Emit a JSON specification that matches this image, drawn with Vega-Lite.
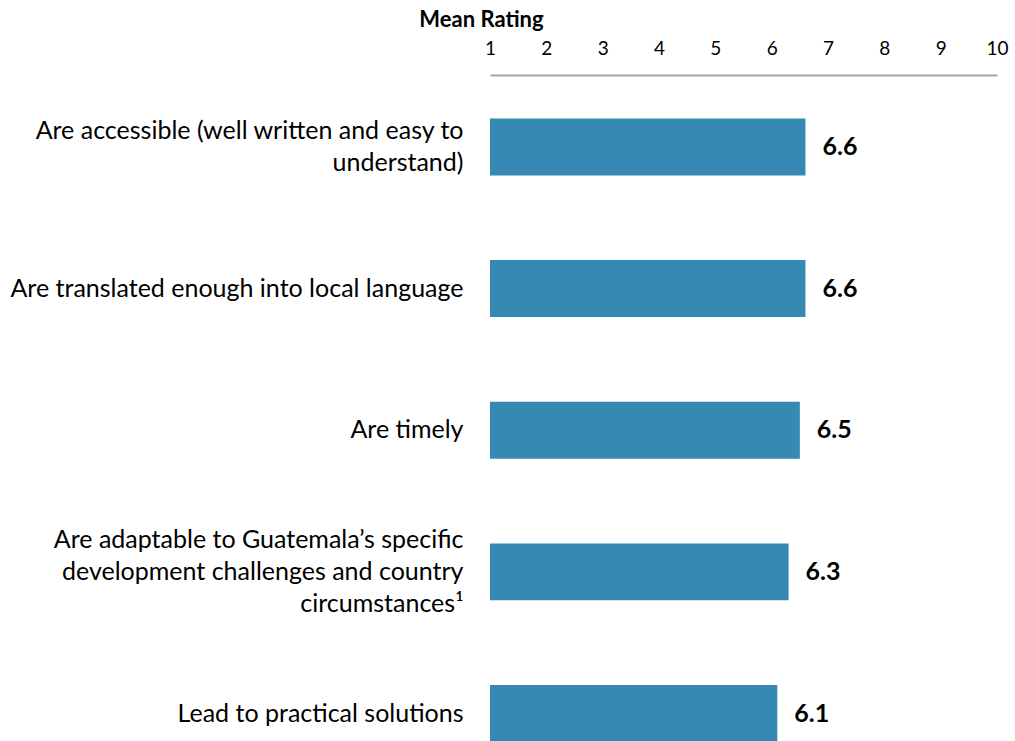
{
  "$schema": "https://vega.github.io/schema/vega-lite/v6.json",
  "autosize": "none",
  "padding": {"left": 490, "top": 75, "right": 18, "bottom": 0},
  "width": 507,
  "height": 667,
  "background": "white",
  "data": {"values": [
    {"item": "Are accessible (well written and easy to|understand)", "rating": 6.6},
    {"item": "Are translated enough into local language", "rating": 6.6},
    {"item": "Are timely", "rating": 6.5},
    {"item": "Are adaptable to Guatemala’s specific|development challenges and country|circumstances¹", "rating": 6.3},
    {"item": "Lead to practical solutions", "rating": 6.1}
  ]},
  "encoding": {
    "y": {
      "field": "item", "type": "nominal", "sort": null,
      "scale": {"paddingInner": 0.598, "paddingOuter": 0.1534, "align": 1},
      "axis": {
        "title": null, "domain": false, "ticks": false, "grid": false,
        "labelExpr": "split(datum.label, '|')",
        "labelFont": "Lato", "labelFontSize": 25, "labelColor": "#000000",
        "labelPadding": 27, "labelLineHeight": 32, "labelLimit": 0,
        "labelAlign": "right", "labelBaseline": "middle",
        "labelOffset": {
          "condition": [
            {"test": "length(split(datum.value, '|')) == 3", "value": -32},
            {"test": "length(split(datum.value, '|')) == 2", "value": -16}
          ],
          "value": 0
        }
      }
    },
    "x": {
      "field": "rating", "type": "quantitative",
      "scale": {"domain": [1, 10], "nice": false, "zero": false},
      "axis": {
        "orient": "top", "values": [1,2,3,4,5,6,7,8,9,10], "format": "d",
        "grid": false, "ticks": false,
        "domainColor": "#A6A6A6", "domainWidth": 2,
        "labelFont": "Lato", "labelFontSize": 19, "labelColor": "#000000",
        "labelPadding": 17, "labelFlush": false,
        "title": "Mean Rating", "titleFont": "Lato", "titleFontSize": 22, "titleFontWeight": "bold",
        "titleColor": "#000000", "titleAlign": "center", "titleBaseline": "middle",
        "titleX": -9, "titleY": -56
      }
    }
  },
  "layer": [
    {"mark": {"type": "bar", "color": "#3589B3"}, "encoding": {"x2": {"datum": 1}}},
    {
      "mark": {"type": "text", "align": "left", "baseline": "middle", "dx": 17, "font": "Lato", "fontSize": 25, "fontWeight": "bold", "color": "#000000"},
      "encoding": {"text": {"field": "rating", "type": "quantitative", "format": ".1f"}}
    }
  ],
  "config": {"view": {"stroke": null}}
}
